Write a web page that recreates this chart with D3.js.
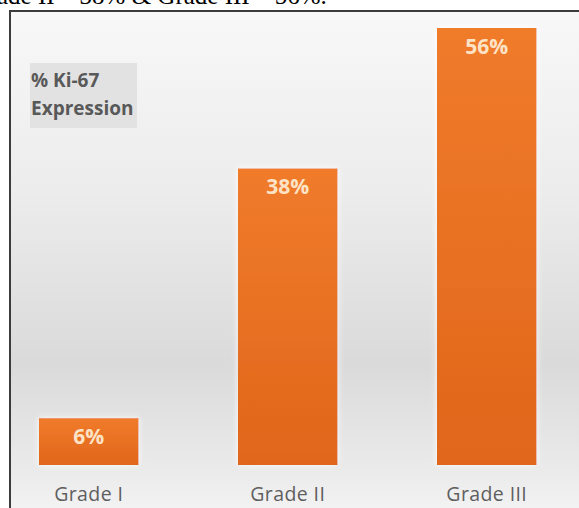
<!DOCTYPE html>
<html>
<head>
	<style>
		body { margin: 0; background: #ffffff; overflow: hidden; }
	</style>
	<script src="https://d3js.org/d3.v7.min.js"></script>
</head>
<body>
	<svg id="chart" width="579" height="508"></svg>
<script>
// chart data
var grades = ["Grade I", "Grade II", "Grade III"];
var ki67 = [6, 38, 56];
var valueLabels = ["6%", "38%", "56%"];
var legendLines = ["% Ki-67", "Expression"];
var captionText = "ade II \u2013 38% & Grade III \u2013 56%.";

var svg = d3.select("svg#chart");
var defs = svg.append("defs");

// background of the chart panel
var bg = defs.append("linearGradient").attr("id", "bg")
	.attr("x1", 0).attr("y1", 0).attr("x2", 0).attr("y2", 1);
bg.append("stop").attr("offset", "0%").attr("stop-color", "#f8f8f8");
bg.append("stop").attr("offset", "35%").attr("stop-color", "#ececec");
bg.append("stop").attr("offset", "68%").attr("stop-color", "#dadada");
bg.append("stop").attr("offset", "88%").attr("stop-color", "#eaeaea");
bg.append("stop").attr("offset", "100%").attr("stop-color", "#f7f7f7");

var barGrad = defs.append("linearGradient").attr("id", "bar")
	.attr("x1", 0).attr("y1", 0).attr("x2", 0).attr("y2", 1);
barGrad.append("stop").attr("offset", "0%").attr("stop-color", "#f07b2b");
barGrad.append("stop").attr("offset", "100%").attr("stop-color", "#e0661a");

var glow = defs.append("filter").attr("id", "glow")
	.attr("x", "-20%").attr("y", "-20%").attr("width", "140%").attr("height", "140%");
glow.append("feDropShadow").attr("dx", 0).attr("dy", 0).attr("stdDeviation", 3)
	.attr("flood-color", "#ffffff").attr("flood-opacity", 0.9);

// caption line cut off at the top (from the surrounding document)
svg.append("text")
	.attr("x", -3)
	.attr("y", 4)
	.style("font-family", "'Liberation Serif', 'Times New Roman', serif")
	.style("font-size", "25px")
	.attr("fill", "#000")
	.text(captionText);

// panel
svg.append("rect")
	.attr("x", 10).attr("y", 11)
	.attr("width", 600).attr("height", 520)
	.attr("fill", "url(#bg)")
	.attr("stroke", "#3c3c3c")
	.attr("stroke-width", 2);

// scales
var x = d3.scaleBand()
	.domain(grades)
	.range([39, 536.5])
	.paddingInner(0.5)
	.paddingOuter(0);

var y = d3.scaleLinear()
	.domain([0, 56])
	.range([465, 28]);

var bars = svg.append("g").attr("id", "bars");

bars.selectAll("rect").data(ki67)
	.enter()
	.append("rect")
	.attr("x", (d, i) => x(grades[i]))
	.attr("y", d => y(d))
	.attr("width", x.bandwidth())
	.attr("height", d => y(0) - y(d))
	.attr("fill", "url(#bar)")
	.attr("filter", "url(#glow)");

bars.selectAll("text").data(ki67)
	.enter()
	.append("text")
	.attr("x", (d, i) => x(grades[i]) + x.bandwidth() / 2)
	.attr("y", d => y(d) + 26)
	.attr("text-anchor", "middle")
	.style("font-family", "'Open Sans', sans-serif")
	.style("font-weight", "bold")
	.style("font-size", "21px")
	.attr("fill", "#fde3c6")
	.text((d, i) => valueLabels[i]);

// category labels
svg.append("g").selectAll("text").data(grades)
	.enter()
	.append("text")
	.attr("x", d => x(d) + x.bandwidth() / 2)
	.attr("y", 501)
	.attr("text-anchor", "middle")
	.style("font-family", "'Open Sans', sans-serif")
	.style("font-size", "19.5px")
	.style("letter-spacing", "0.4px")
	.attr("fill", "#5f5f5f")
	.text(d => d);

// legend box
var legend = svg.append("g").attr("id", "legend");
legend.append("rect")
	.attr("x", 30).attr("y", 63)
	.attr("width", 107).attr("height", 65)
	.attr("fill", "#e2e2e2");
legend.selectAll("text").data(legendLines)
	.enter()
	.append("text")
	.attr("x", 31)
	.attr("y", (d, i) => 87 + i * 28)
	.style("font-family", "'Open Sans', sans-serif")
	.style("font-weight", "bold")
	.style("font-size", "19px")
	.attr("fill", "#595959")
	.text(d => d);
</script>
</body>
</html>
